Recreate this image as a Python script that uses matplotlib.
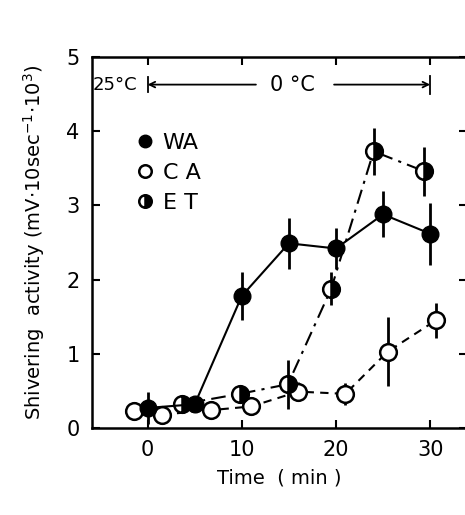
import matplotlib.pyplot as plt

# Data
wa_t = [0, 5, 10, 15, 20, 25, 30]
wa_y = [0.27, 0.32, 1.78, 2.49, 2.42, 2.88, 2.62]
wa_err = [0.22, 0.10, 0.32, 0.34, 0.28, 0.31, 0.42]

ca_t = [-1.5, 1.5, 6.7, 11, 16, 21, 25.5, 30.6]
ca_y = [0.23, 0.18, 0.24, 0.29, 0.49, 0.46, 1.03, 1.45]
ca_err = [0.12, 0.08, 0.10, 0.12, 0.13, 0.15, 0.47, 0.24]

et_t = [3.6, 9.8, 14.9, 19.5, 24.0, 29.4]
et_y = [0.32, 0.46, 0.59, 1.88, 3.73, 3.46]
et_err = [0.10, 0.12, 0.33, 0.22, 0.32, 0.33]

fig = plt.figure(figsize=(4.65, 5.15), dpi=100)
ax = fig.add_axes([0.198, 0.169, 0.806, 0.720])

ms = 12
ax.errorbar(ca_t, ca_y, yerr=ca_err, fmt='o', ls=(0, (4, 3)), color='black',
            mfc='white', mec='black', mew=1.8, ms=ms, lw=1.5, elinewidth=2,
            capsize=0, label='C A', zorder=3)
ax.errorbar(et_t, et_y, yerr=et_err, fmt='o', ls=(0, (7, 3, 1.5, 3)), color='black',
            mfc='black', mfcalt='white', fillstyle='right', mec='black', mew=1.8,
            ms=ms, lw=1.5, elinewidth=2, capsize=0, label='E T', zorder=4)
ax.errorbar(wa_t, wa_y, yerr=wa_err, fmt='o', ls='-', color='black',
            mfc='black', mec='black', ms=ms, lw=1.5, elinewidth=2,
            capsize=0, label='WA', zorder=5)

ax.set_xlim(-5.9, 33.9)
ax.set_ylim(0, 5)
ax.set_xticks([0, 10, 20, 30])
ax.set_yticks([0, 1, 2, 3, 4, 5])
ax.tick_params(direction='in', length=6, width=1.5, top=True, right=True,
               labelsize=15, pad=9)
for s in ax.spines.values():
    s.set_linewidth(1.8)
ax.spines['right'].set_visible(False)  # cut off in the original scan

ax.set_xlabel('Time  ( min )', fontsize=14, labelpad=6)
ax.set_ylabel('Shivering  activity (mV$\\cdot$10sec$^{-1}$$\\cdot$10$^3$)',
              fontsize=14, labelpad=14)

# Temperature annotation
ty = 4.63
ax.text(-5.8, ty, '25\u00b0C', fontsize=13, va='center', ha='left')
ax.annotate('', xy=(0, ty), xytext=(11.5, ty),
            arrowprops=dict(arrowstyle='->', lw=1.3, color='black',
                            shrinkA=0, shrinkB=0))
ax.annotate('', xy=(30, ty), xytext=(19.8, ty),
            arrowprops=dict(arrowstyle='->', lw=1.3, color='black',
                            shrinkA=0, shrinkB=0))
ax.plot([0, 0], [ty - 0.1, ty + 0.1], color='black', lw=1.3)
ax.plot([30, 30], [ty - 0.12, ty + 0.12], color='black', lw=1.3)
ax.text(15.4, ty, '0 \u00b0C', fontsize=15, va='center', ha='center')

# Legend
handles, labels = ax.get_legend_handles_labels()
order = [2, 0, 1]
leg = ax.legend([handles[i][0] for i in order], [labels[i] for i in order],
                loc='upper left', bbox_to_anchor=(0.07, 0.85), frameon=False,
                fontsize=16, handlelength=0.6, handletextpad=0.5,
                labelspacing=0.45, markerscale=0.75)
for h in leg.legend_handles:
    h.set_linestyle('none')

fig.savefig('out.png', dpi=100)
